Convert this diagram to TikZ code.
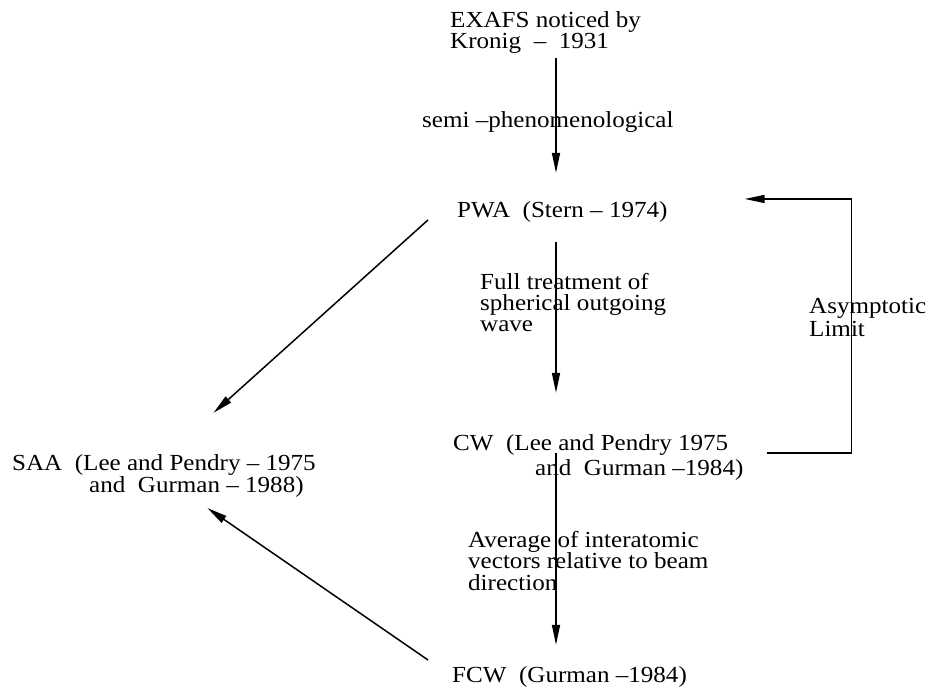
\documentclass[tikz,border=0pt]{standalone}
\usepackage{fontspec}
\setmainfont{Liberation Serif}[FakeStretch=1.09]
\usetikzlibrary{arrows.meta}
\tikzset{
  lbl/.style={anchor=base west,inner sep=0pt,align=left,font={\fontsize{23}{#1}\selectfont}},
  lbl/.default=21,
  flow/.style={-{Triangle[length=20pt,width=8pt]},line width=1.5pt},
}
\begin{document}
\begin{tikzpicture}[x=1pt,y=-1pt]
  \useasboundingbox (0,0) rectangle (929,688);
  \coordinate (spine) at (556,0);

  \node[lbl=17.5] (exafs) at (450,48.5) {EXAFS noticed by\\Kronig~~--~~1931};
  \node[lbl] (pwa) at (457,217) {PWA~~(Stern -- 1974)};
  \node[lbl=25] (cw) at (453,475) {CW~~(Lee and Pendry 1975\\\hspace*{82pt}and~~Gurman --1984)};
  \node[lbl=22] (saa) at (12,492) {SAA~~(Lee and Pendry -- 1975\\\hspace*{77pt}and~~Gurman -- 1988)};
  \node[lbl] (fcw) at (452,682) {FCW~~(Gurman --1984)};

  \node[lbl] (semi) at (422,127) {semi --phenomenological};
  \node[lbl] (treat) at (480,331) {Full treatment of\\spherical outgoing\\wave};
  \node[lbl=23] (asym) at (809,336) {Asymptotic\\Limit};
  \node[lbl=21.5] (avg) at (468,590) {Average of interatomic\\vectors relative to beam\\direction};

  \draw[flow,shorten <=4.5pt,shorten >=28pt] (exafs.south -| spine) -- (pwa.north -| spine);
  \draw[flow,shorten <=20pt,shorten >=41pt] (pwa.south -| spine) -- (cw.north -| spine);
  \draw[flow,shorten <=19pt,shorten >=21pt] (cw.north -| spine) -- (fcw.north -| spine);
  \draw[flow] ([shift={(-29,8.5)}]pwa.west) -- ([shift={(49.5,-41)}]saa.north);
  \draw[flow] ([shift={(-24,-16.5)}]fcw.west) -- ([shift={(43.5,11)}]saa.south);
  \draw[flow] ([shift={(23,-4)}]cw.east) -- ++(85,0) |- ([shift={(77,-12.5)}]pwa.east);
\end{tikzpicture}
\end{document}
